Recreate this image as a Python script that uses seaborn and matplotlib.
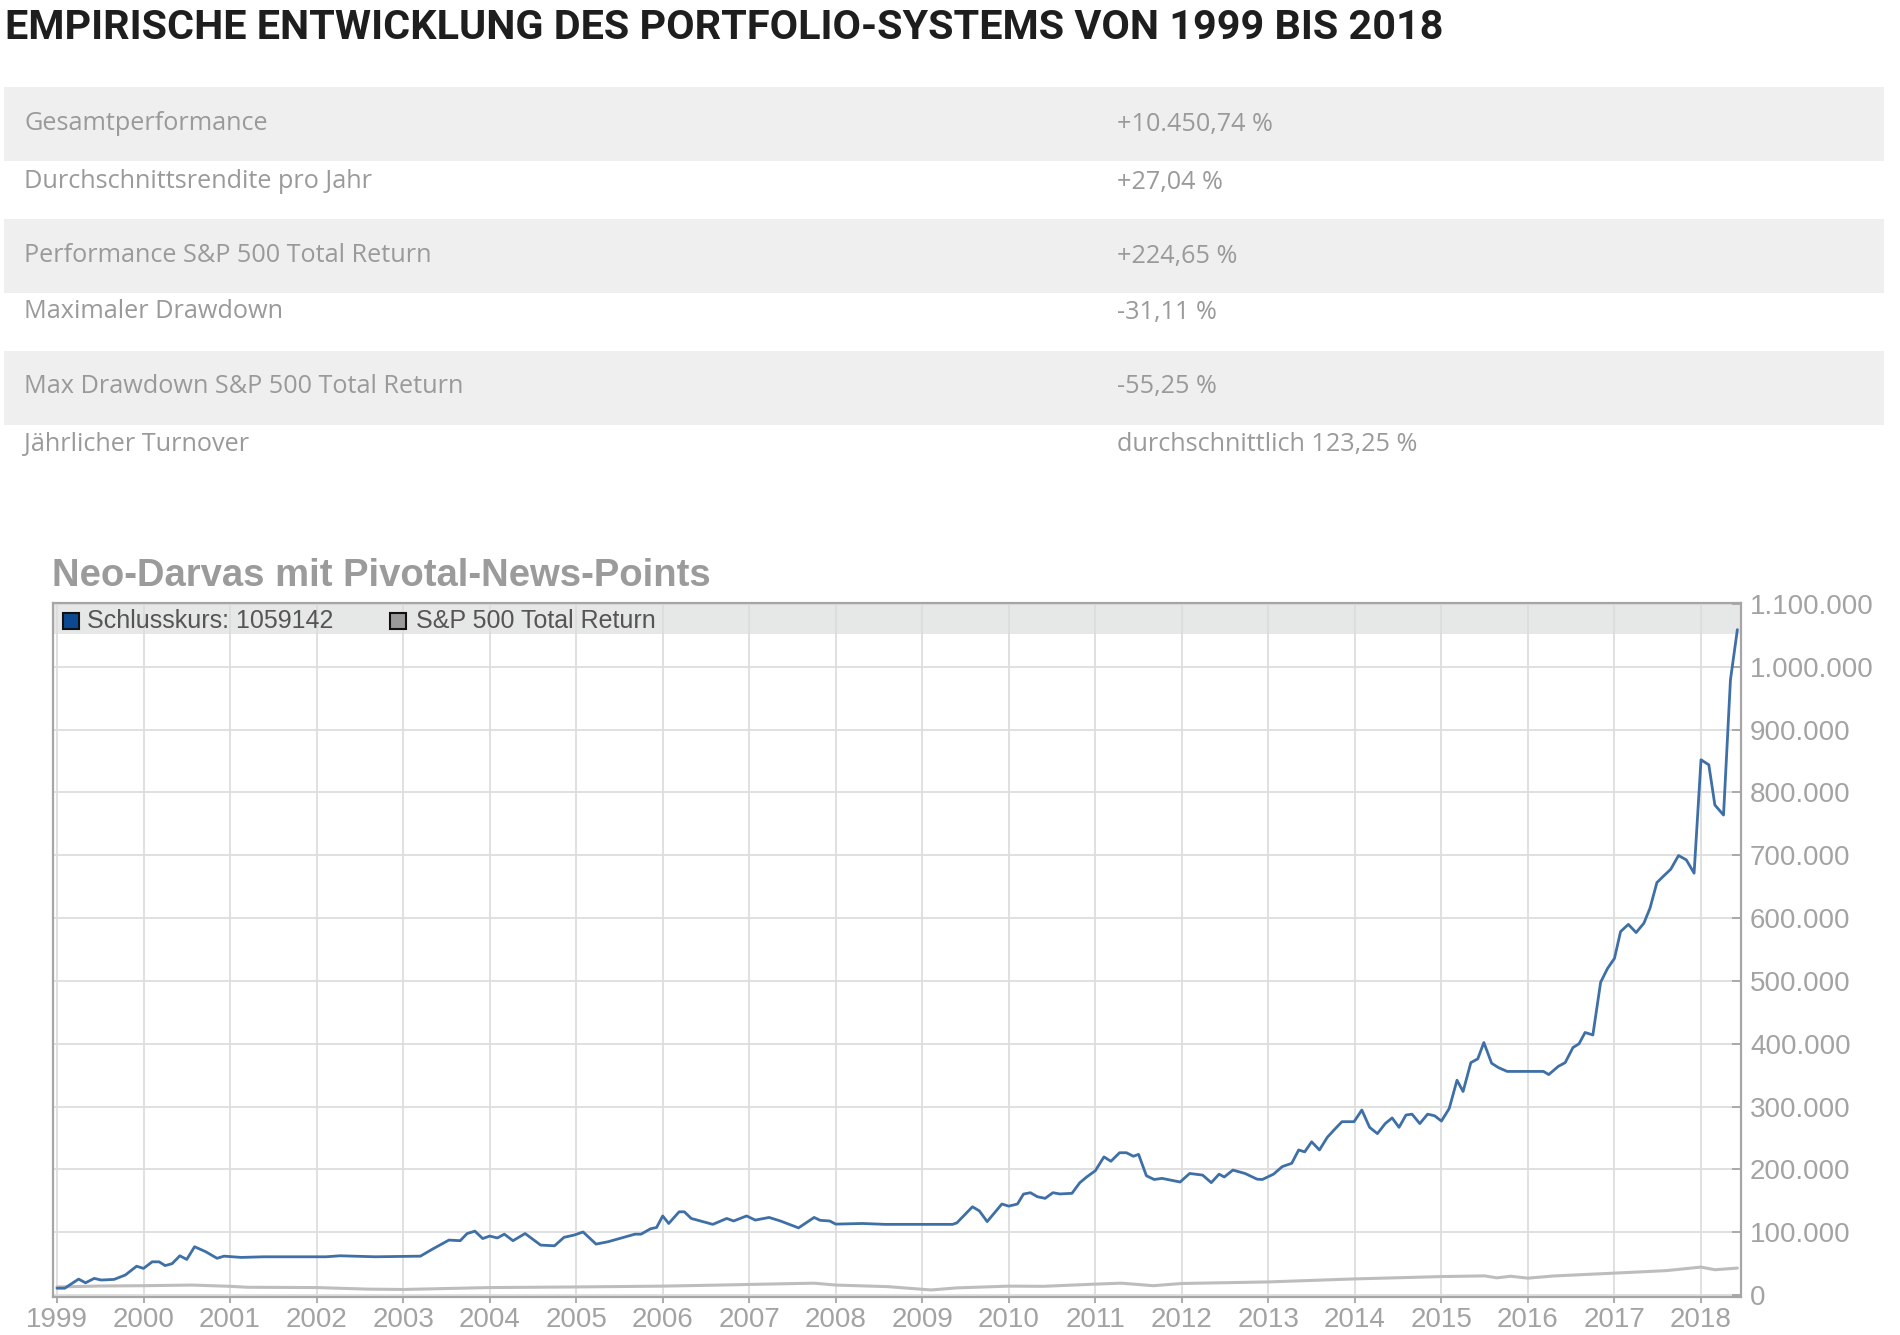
import matplotlib
matplotlib.use("Agg")
import matplotlib.pyplot as plt
from matplotlib import font_manager
from matplotlib.patches import Rectangle
from matplotlib.ticker import FuncFormatter, MultipleLocator
import seaborn as sns
import pandas as pd

# ---------------- data ----------------
title_text = "EMPIRISCHE ENTWICKLUNG DES PORTFOLIO-SYSTEMS VON 1999 BIS 2018"
table_labels = ["Gesamtperformance", "Durchschnittsrendite pro Jahr",
                "Performance S&P 500 Total Return", "Maximaler Drawdown",
                "Max Drawdown S&P 500 Total Return", "Jährlicher Turnover"]
table_values = ["+10.450,74 %", "+27,04 %", "+224,65 %", "-31,11 %",
                "-55,25 %", "durchschnittlich 123,25 %"]
chart_title = "Neo-Darvas mit Pivotal-News-Points"
legend_labels = ["Schlusskurs: 1059142", "S&P 500 Total Return"]
year_ticks = list(range(1999, 2019))

portfolio_years = [
    1999.0, 1999.09, 1999.25, 1999.33, 1999.43, 1999.51, 1999.66, 1999.79, 1999.92,
    2000.0, 2000.1, 2000.18, 2000.25, 2000.33, 2000.42, 2000.5, 2000.59, 2000.72,
    2000.85, 2000.93, 2001.13, 2001.39, 2002.11, 2002.27, 2002.68, 2003.2, 2003.35,
    2003.53, 2003.66, 2003.74, 2003.83, 2003.92, 2004.0, 2004.09, 2004.17, 2004.27,
    2004.41, 2004.59, 2004.75, 2004.86, 2004.98, 2005.08, 2005.23, 2005.37, 2005.55,
    2005.68, 2005.75, 2005.86, 2005.93, 2006.0, 2006.07, 2006.19, 2006.25, 2006.33,
    2006.58, 2006.74, 2006.82, 2006.97, 2007.07, 2007.23, 2007.36, 2007.57, 2007.75,
    2007.82, 2007.93, 2008.0, 2008.31, 2008.57, 2009.35, 2009.4, 2009.58, 2009.66,
    2009.75, 2009.92, 2010.0, 2010.1, 2010.17, 2010.25, 2010.33, 2010.42, 2010.51,
    2010.59, 2010.73, 2010.82, 2010.9, 2011.0, 2011.1, 2011.18, 2011.28, 2011.36,
    2011.44, 2011.5, 2011.59, 2011.68, 2011.77, 2011.98, 2012.09, 2012.24, 2012.34,
    2012.43, 2012.49, 2012.59, 2012.73, 2012.87, 2012.93, 2013.06, 2013.16, 2013.27,
    2013.35, 2013.42, 2013.5, 2013.59, 2013.68, 2013.76, 2013.85, 2013.99, 2014.08,
    2014.17, 2014.26, 2014.35, 2014.43, 2014.51, 2014.59, 2014.66, 2014.75, 2014.84,
    2014.92, 2015.0, 2015.09, 2015.18, 2015.25, 2015.34, 2015.42, 2015.49, 2015.58,
    2015.66, 2015.76, 2015.9, 2016.18, 2016.24, 2016.35, 2016.43, 2016.52, 2016.59,
    2016.66, 2016.75, 2016.84, 2016.92, 2017.0, 2017.07, 2017.16, 2017.25, 2017.34,
    2017.41, 2017.49, 2017.56, 2017.65, 2017.74, 2017.83, 2017.92, 2018.0, 2018.09,
    2018.16, 2018.26, 2018.34, 2018.42]
portfolio_values = [
    11000, 11000, 25500, 19600, 26600, 24000, 25000, 32000, 46000,
    42500, 53000, 53000, 47000, 50000, 62600, 56800, 77000, 69000,
    58600, 62000, 60000, 61000, 61000, 62600, 61000, 62000, 74000,
    87600, 86600, 98000, 101800, 90000, 94000, 91000, 97000, 86600,
    98000, 79600, 78500, 92000, 95700, 100500, 81200, 85000, 92000,
    97000, 97000, 105600, 107700, 126000, 114000, 132600, 132600, 122000,
    112600, 122000, 118000, 126000, 119400, 123600, 118000, 107000, 123600,
    119000, 118000, 113000, 114000, 112600, 112600, 115000, 140600, 134000,
    117000, 145000, 141600, 145000, 160800, 163000, 156600, 154000, 163000,
    161000, 162000, 178800, 188000, 198000, 220000, 213000, 226600, 226600,
    221000, 224000, 190000, 184000, 185800, 180000, 193600, 191000, 179000,
    192500, 188000, 199000, 193600, 184500, 184000, 192500, 204500, 209800,
    231000, 228000, 244000, 231000, 251000, 263000, 276000, 276000, 294600,
    267000, 257000, 273000, 282000, 267000, 286600, 288000, 273000, 288000,
    285500, 277000, 297000, 342000, 324000, 370000, 376000, 402000, 369000,
    362000, 356000, 356000, 356000, 351000, 364000, 370000, 394000, 400000,
    418000, 414000, 498000, 520000, 536000, 578500, 590000, 577000, 592000,
    615700, 656500, 666000, 677800, 699600, 692700, 671500, 852000, 844000,
    780000, 764000, 979000, 1059142]

sp500_years = [
    1999.0, 1999.5, 2000.0, 2000.56, 2001.0, 2001.2, 2002.0, 2002.6, 2003.0,
    2004.0, 2005.0, 2006.0, 2006.85, 2007.0, 2007.75, 2008.0, 2008.6, 2009.1,
    2009.4, 2010.0, 2010.4, 2011.0, 2011.3, 2011.67, 2012.0, 2013.0, 2014.0,
    2015.0, 2015.5, 2015.64, 2015.8, 2016.0, 2016.3, 2017.0, 2017.6, 2018.0,
    2018.16, 2018.42]
sp500_values = [
    13000, 14500, 15000, 16000, 14000, 12500, 12000, 9500, 9000,
    12000, 13000, 14300, 16500, 17000, 19000, 16000, 13500, 8200,
    11500, 14300, 14000, 17500, 19000, 15000, 18500, 21000, 25800,
    29500, 30600, 27500, 30000, 27000, 30500, 35000, 39000, 44600,
    40400, 43000]

# ---------------- style ----------------
sns.set_theme(style="white")
avail = {f.name for f in font_manager.fontManager.ttflist}
def pick(*names):
    for n in names:
        if n in avail:
            return n
    return "DejaVu Sans"
sans = pick("Liberation Sans", "Arial", "DejaVu Sans")
narrow = pick("Liberation Sans Narrow", "Roboto", "Liberation Sans")
tablefont = pick("Open Sans", "Noto Sans", "Lato")
plt.rcParams["font.family"] = [sans, "DejaVu Sans"]

W, H = 1900, 1335
fig = plt.figure(figsize=(W / 100, H / 100), dpi=100)
fig.patch.set_facecolor("white")

def fx(px):
    return px / W
def fy(py):
    return 1 - py / H

# title
fig.text(fx(5), fy(28), title_text, family=[narrow, "DejaVu Sans"], weight="bold",
         fontsize=29.8, color="#1e1e1e", va="center", ha="left")

# table
row_bands = [(87, 161), (161, 219), (219, 293), (293, 351), (351, 425), (425, 483)]
row_text_y = [124, 182, 256, 312, 387, 444]
for i, (lab, val) in enumerate(zip(table_labels, table_values)):
    if i % 2 == 0:
        y0, y1 = row_bands[i]
        fig.patches.append(Rectangle((fx(4), fy(y1)), fx(1884) - fx(4), fy(y0) - fy(y1),
                                     transform=fig.transFigure, facecolor="#efefef",
                                     edgecolor="none", zorder=0))
    fig.text(fx(24), fy(row_text_y[i]), lab, family=[tablefont, "DejaVu Sans"],
             fontsize=18.2, color="#9a9a9a", va="center", ha="left")
    fig.text(fx(1117), fy(row_text_y[i]), val, family=[tablefont, "DejaVu Sans"],
             fontsize=18.2, color="#9a9a9a", va="center", ha="left")

# chart title
fig.text(fx(52), fy(576), chart_title, weight="bold", fontsize=27.5,
         color="#9b9b9b", va="center", ha="left")

# axes
ax = fig.add_axes([fx(53), fy(1297), fx(1741) - fx(53), fy(603) - fy(1297)])
ax.set_facecolor("white")

df_p = pd.DataFrame({"year": portfolio_years, "value": portfolio_values})
df_s = pd.DataFrame({"year": sp500_years, "value": sp500_values})

ymax = 1101500
ax.axhspan(1052000, ymax, color="#e6e7e7", zorder=0.5, lw=0)
sns.lineplot(data=df_s, x="year", y="value", ax=ax, color="#bdbdbd", lw=2.2,
             zorder=3, estimator=None, sort=False)
sns.lineplot(data=df_p, x="year", y="value", ax=ax, color="#3e6fa6", lw=2.0,
             zorder=4, estimator=None, sort=False)

ax.set_xlim(1998.954, 2018.462)
ax.set_ylim(-3000, ymax)
ax.set_xlabel("")
ax.set_ylabel("")
ax.set_xticks(year_ticks)
ax.set_xticklabels([str(y) for y in year_ticks])
ax.yaxis.set_major_locator(MultipleLocator(100000))
ax.yaxis.set_major_formatter(FuncFormatter(lambda v, p: f"{int(round(v)):,}".replace(",", ".")))
ax.yaxis.tick_right()
ax.grid(True, color="#dddddd", lw=1.3, zorder=1)
ax.set_axisbelow(False)
for gl in ax.get_xgridlines() + ax.get_ygridlines():
    gl.set_zorder(1)
for s in ax.spines.values():
    s.set_color("#a6a6a6")
    s.set_linewidth(1.6)
    s.set_zorder(5)
ax.tick_params(axis="y", which="both", right=True, left=False, direction="in",
               length=6.5, width=1.3, color="#a6a6a6", pad=6.5,
               labelsize=20, labelcolor="#a3a3a3")
ax.tick_params(axis="x", which="both", bottom=True, direction="out",
               length=4, width=1.3, color="#a6a6a6", pad=3,
               labelsize=20, labelcolor="#a3a3a3")
leg = ax.get_legend()
if leg:
    leg.remove()

# legend inside the top band
cy = 621
sq = 16
fig.patches.append(Rectangle((fx(63), fy(cy + sq / 2)), fx(sq), sq / H,
                             transform=fig.transFigure, facecolor="#0b4a90",
                             edgecolor="#111111", lw=1.5, zorder=10))
fig.text(fx(87), fy(cy), legend_labels[0], fontsize=18, color="#555555",
         va="center", ha="left", zorder=10)
fig.patches.append(Rectangle((fx(390), fy(cy + sq / 2)), fx(sq), sq / H,
                             transform=fig.transFigure, facecolor="#9a9a9a",
                             edgecolor="#111111", lw=1.5, zorder=10))
fig.text(fx(416), fy(cy), legend_labels[1], fontsize=18, color="#555555",
         va="center", ha="left", zorder=10)

fig.savefig("out.png", dpi=100, facecolor="white")
